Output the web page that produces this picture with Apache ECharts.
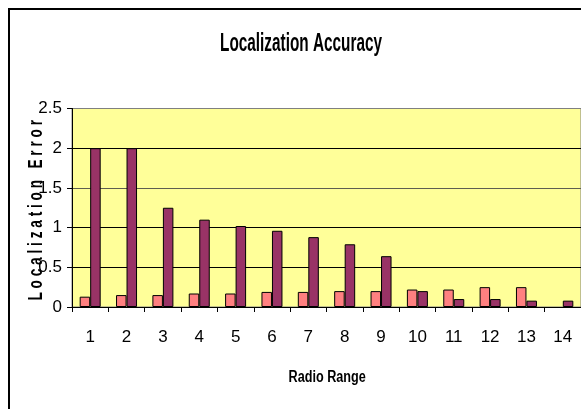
<!DOCTYPE html>
<html>
<head>
<meta charset="utf-8">
<title>Localization Accuracy</title>
<script src="https://cdn.jsdelivr.net/npm/echarts@6/dist/echarts.min.js"></script>
<style>
  html, body { margin: 0; padding: 0; background: #ffffff; }
  #chart { width: 581px; height: 409px; }
</style>
</head>
<body>
<div id="chart"></div>
<script>
// Radio range categories along the x axis
const radioRange = ['1', '2', '3', '4', '5', '6', '7', '8', '9', '10', '11', '12', '13', '14'];

// Localization error per radio range, two series
const errorLow = [0.13, 0.15, 0.15, 0.17, 0.17, 0.19, 0.19, 0.20, 0.20, 0.22, 0.22, 0.25, 0.25, null];
const errorHigh = [2.0, 2.0, 1.25, 1.1, 1.02, 0.96, 0.88, 0.79, 0.64, 0.20, 0.10, 0.10, 0.08, 0.08];

// Value axis range and step
const yMin = 0;
const yMax = 2.5;
const yStep = 0.5;

const titleText = 'Localization Accuracy';
const xName = 'Radio Range';
const yName = 'L o c a l i z a t i o n   E r r o r';

const narrow = '"Liberation Sans Narrow", "Arial Narrow", "Liberation Sans", Arial, sans-serif';
const sans = '"Liberation Sans", Arial, sans-serif';

const chart = echarts.init(document.getElementById('chart'), null, { renderer: 'canvas' });

const barStyle = (color) => ({
  color: color,
  borderColor: '#000000',
  borderWidth: 1
});

chart.setOption({
  animation: false,
  backgroundColor: '#ffffff',
  graphic: [
    // outer chart frame (runs off the right and bottom edges)
    {
      type: 'rect',
      silent: true,
      shape: { x: 9, y: 9, width: 700, height: 500 },
      style: { fill: 'none', stroke: '#000000', lineWidth: 2 },
      z: 100
    },
    {
      type: 'text',
      silent: true,
      x: 301, y: 44.3,
      scaleX: 0.59,
      style: {
        text: titleText,
        font: 'bold 26px ' + sans,
        fill: '#000000',
        align: 'center',
        verticalAlign: 'middle'
      }
    },
    {
      type: 'text',
      silent: true,
      x: 327.2, y: 377.5,
      scaleX: 0.79,
      style: {
        text: xName,
        font: 'bold 16px ' + sans,
        fill: '#000000',
        align: 'center',
        verticalAlign: 'middle'
      }
    },
    {
      type: 'text',
      silent: true,
      x: 36.3, y: 210.3,
      rotation: Math.PI / 2,
      scaleX: 0.70,
      style: {
        text: yName,
        font: 'bold 19.5px ' + sans,
        fill: '#000000',
        align: 'center',
        verticalAlign: 'middle'
      }
    }
  ],
  grid: {
    left: 72,
    right: -2,
    top: 108.5,
    bottom: 102,
    show: true,
    backgroundColor: '#FFFF99',
    borderColor: '#808080',
    borderWidth: 1
  },
  xAxis: {
    type: 'category',
    data: radioRange,
    boundaryGap: true,
    axisLine: { show: true, lineStyle: { color: '#000000', width: 1 } },
    axisTick: { show: true, length: 5, lineStyle: { color: '#000000' } },
    axisLabel: {
      color: '#000000',
      fontFamily: narrow,
      fontSize: 17,
      margin: 22
    },
    splitLine: { show: false }
  },
  yAxis: {
    type: 'value',
    min: yMin,
    max: yMax,
    interval: yStep,
    axisLine: { show: true, lineStyle: { color: '#000000', width: 1 } },
    axisTick: { show: true, length: 5, lineStyle: { color: '#000000' } },
    axisLabel: {
      color: '#000000',
      fontFamily: narrow,
      fontSize: 17,
      margin: 10,
      formatter: (v) => String(v)
    },
    splitLine: {
      show: true,
      lineStyle: {
        color: ['#000000', '#000000', '#000000', '#5f5f50', '#000000', '#808080'],
        width: 1
      }
    }
  },
  series: [
    {
      name: 'Low',
      type: 'bar',
      data: errorLow,
      barWidth: 10.5,
      barGap: '0%',
      itemStyle: barStyle('#FF8080')
    },
    {
      name: 'High',
      type: 'bar',
      data: errorHigh,
      barWidth: 10.5,
      barGap: '0%',
      itemStyle: barStyle('#993366')
    }
  ]
});
</script>
</body>
</html>
